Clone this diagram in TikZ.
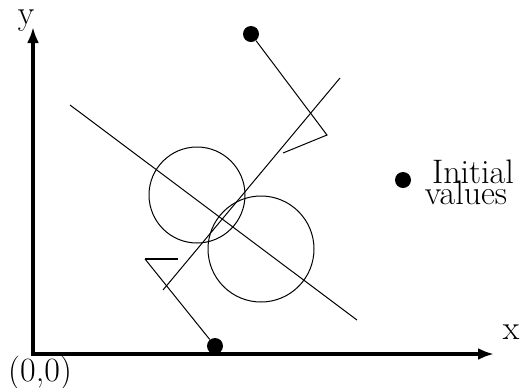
\documentclass[tikz,border=0pt]{standalone}
\usepackage{tikz}
\usetikzlibrary{arrows.meta,positioning,calc}

\begin{document}
\begin{tikzpicture}[x=0.5pt,y=-0.5pt,>={Latex[length=8pt,width=6pt]},
  axis/.style={line width=1.6pt},
  trail/.style={line width=0.5pt},
  dot/.style={circle,fill=black,inner sep=0pt,minimum size=8pt},
  lab/.style={font=\fontsize{17}{20}\selectfont,inner sep=0pt}]
\useasboundingbox (0,0) rectangle (520,387);
% ---- axes ----
\coordinate (O) at (33,354);
\coordinate (Y) at (33,27);
\coordinate (X) at (494,354);
\draw[axis,<->] (Y) -- (O) -- (X);
\node[lab] (ylab) at (26,21) {y};
\node[lab] (xlab) at (511,332) {x};
\node[lab] (olab) at (40,373) {(0,0)};
% ---- starting points ----
\node[dot] (top) at (251,34) {};
\node[dot] (bot) at (215,346) {};
\node[dot] (init) at (403,180) {};
\node[lab,anchor=base] (ini) at (473,183) {Initial};
\node[lab,anchor=base] (val) at (466,204) {values};
% ---- search paths ----
\coordinate (tb) at (327,135);
\coordinate (te) at (283,153);
\draw[trail] (top) -- (tb) -- (te);
\coordinate (bb) at (145,259);
\coordinate (be) at (178,259);
\draw[trail] (bot) -- (bb);
\draw[trail,line width=0.9pt] (bb) -- (be);
% ---- lines and circles ----
\draw[trail] (70,105) -- (357,320);
\draw[trail] (163,290) -- (340,78);
\draw[trail] (197,195) circle[radius=48];
\draw[trail] (261,249) circle[radius=53];
\end{tikzpicture}
\end{document}
